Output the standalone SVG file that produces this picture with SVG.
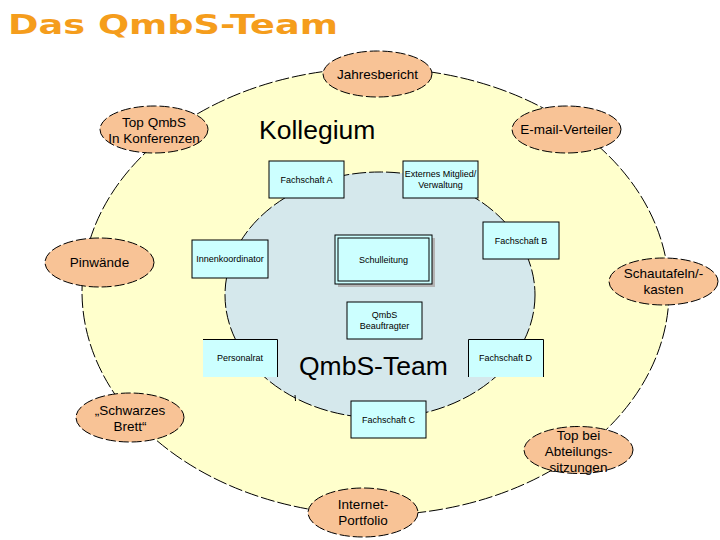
<svg xmlns="http://www.w3.org/2000/svg" width="720" height="540" viewBox="0 0 720 540">
<defs>
<style>
.dash{stroke:#000;stroke-width:1;stroke-dasharray:14,3;}
.oval{fill:#f8c396;stroke:#000;stroke-width:1;stroke-dasharray:10,3;}
.box{fill:#ccffff;stroke:#000;stroke-width:1;}
.t{font-family:"Liberation Sans",Arial,sans-serif;fill:#000;text-anchor:middle;}
.ot{font-size:13.5px;}
.bt{font-size:9px;}
.big{font-family:"Liberation Sans",Arial,sans-serif;font-size:26.5px;fill:#000;}
</style>
</defs>
<rect width="720" height="540" fill="#ffffff"/>
<text x="8" y="33.5" font-family="'DejaVu Sans',Verdana,sans-serif" font-weight="bold" font-size="27" fill="#f59d1c" textLength="330" lengthAdjust="spacingAndGlyphs">Das QmbS-Team</text>

<g id="kollegium">
<ellipse cx="375.5" cy="291.5" rx="293.5" ry="223.5" fill="#ffffcc" class="dash"/>
<text class="big" x="259" y="139">Kollegium</text>
</g>

<g id="qmbs-team">
<ellipse cx="380" cy="295" rx="155" ry="123" fill="#d5e8ec" class="dash"/>
<line x1="295" y1="395" x2="295.5" y2="401" stroke="#000" stroke-width="1"/>
<text class="big" x="299" y="375">QmbS-Team</text>
</g>

<g id="jahresbericht"><ellipse class="oval" cx="377.5" cy="74" rx="54.5" ry="23"/><text class="t ot" x="377.5" y="78.5">Jahresbericht</text></g>
<g id="top-konferenzen"><ellipse class="oval" cx="154" cy="129.5" rx="54" ry="23.5"/><text class="t ot" x="154" y="127">Top QmbS</text><text class="t ot" x="154" y="143">In Konferenzen</text></g>
<g id="email"><ellipse class="oval" cx="566.5" cy="129.5" rx="54.5" ry="23.5"/><text class="t ot" x="566.5" y="134">E-mail-Verteiler</text></g>
<g id="pinwaende"><ellipse class="oval" cx="99.5" cy="262.5" rx="54.5" ry="24.5"/><text class="t ot" x="99.5" y="267">Pinwände</text></g>
<g id="schautafeln"><ellipse class="oval" cx="663.5" cy="281.5" rx="54.5" ry="23.5"/><text class="t ot" x="663.5" y="278">Schautafeln/-</text><text class="t ot" x="663.5" y="294">kasten</text></g>
<g id="schwarzes-brett"><ellipse class="oval" cx="130" cy="417.5" rx="54" ry="24.5"/><text class="t ot" x="130" y="415">„Schwarzes</text><text class="t ot" x="130" y="431">Brett“</text></g>
<g id="top-abteilung"><ellipse class="oval" cx="578.5" cy="450" rx="54.5" ry="23.5"/><text class="t ot" x="578.5" y="440">Top bei</text><text class="t ot" x="578.5" y="456">Abteilungs-</text><text class="t ot" x="578.5" y="472">sitzungen</text></g>
<g id="internet-portfolio"><ellipse class="oval" cx="363" cy="512.5" rx="55" ry="24.5"/><text class="t ot" x="363" y="509">Internet-</text><text class="t ot" x="363" y="525">Portfolio</text></g>

<g id="fachschaft-a"><rect class="box" x="269" y="161" width="75" height="37"/><text class="t bt" x="306.5" y="183">Fachschaft A</text></g>
<g id="externes-mitglied"><rect class="box" x="403" y="161" width="75" height="37"/><text class="t bt" x="440.5" y="177">Externes Mitglied/</text><text class="t bt" x="440.5" y="188">Verwaltung</text></g>
<g id="fachschaft-b"><rect class="box" x="483" y="222" width="76" height="37"/><text class="t bt" x="521" y="244">Fachschaft B</text></g>
<g id="innenkoordinator"><rect class="box" x="192" y="240" width="76" height="38"/><text class="t bt" x="230" y="262">Innenkoordinator</text></g>
<g id="schulleitung">
<rect x="338" y="238" width="97" height="49" fill="#b4b4b4"/>
<rect class="box" x="335" y="235" width="97" height="49"/>
<rect x="338" y="238" width="91" height="43" fill="none" stroke="#000" stroke-width="1"/>
<text class="t bt" x="383.5" y="263">Schulleitung</text>
</g>
<g id="qmbs-beauftragter"><rect class="box" x="347" y="302" width="75" height="37"/><text class="t bt" x="384.5" y="318">QmbS</text><text class="t bt" x="384.5" y="329">Beauftragter</text></g>
<g id="personalrat"><rect x="203" y="339" width="74" height="38" fill="#ccffff"/><path d="M203 339.5H277.5V377" fill="none" stroke="#000"/><text class="t bt" x="240" y="361">Personalrat</text></g>
<g id="fachschaft-d"><rect x="468" y="339" width="75" height="38" fill="#ccffff"/><path d="M468.5 377V339.5H543.5V377" fill="none" stroke="#000"/><text class="t bt" x="505.5" y="361">Fachschaft D</text></g>
<g id="fachschaft-c"><rect class="box" x="351" y="401" width="75" height="37"/><text class="t bt" x="388.5" y="423">Fachschaft C</text></g>

<g id="connectors"></g>
</svg>
